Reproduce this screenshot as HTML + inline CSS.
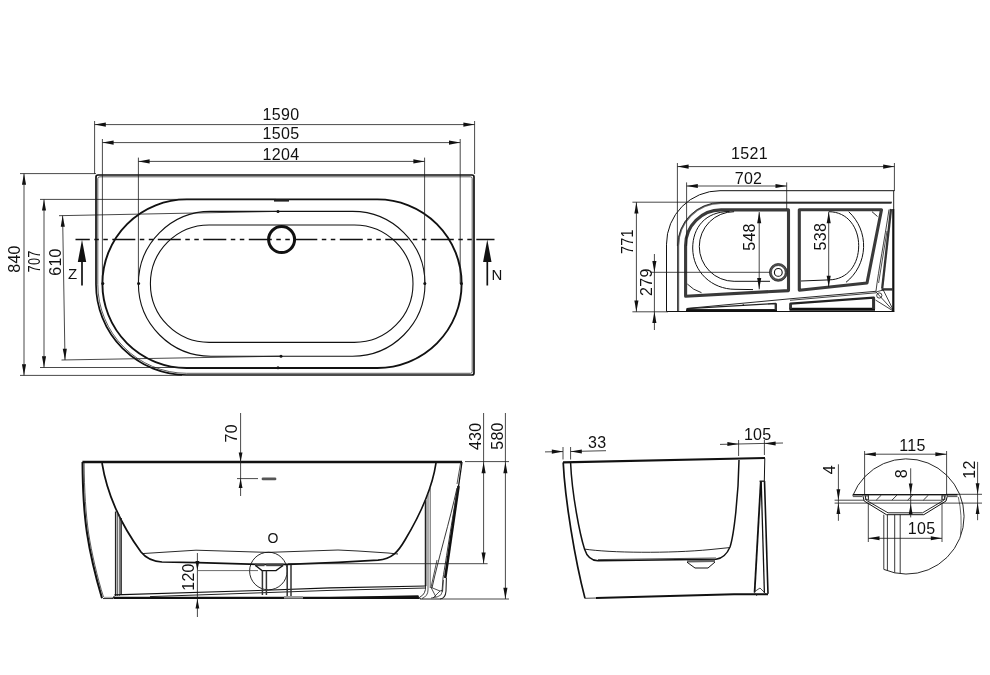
<!DOCTYPE html>
<html><head><meta charset="utf-8"><title>Bathtub drawing</title>
<style>
html,body{margin:0;padding:0;background:#fff;}
body{width:990px;height:675px;overflow:hidden;}
svg{display:block;}
text{font-family:"Liberation Sans",sans-serif;fill:#111;}
</style></head><body>
<svg width="990" height="675" viewBox="0 0 990 675" stroke-linecap="butt">
<rect width="990" height="675" fill="#fff"/>
<g opacity="0.999">
<path d="M 98 175 H 472 Q 474 175 474 177 V 373 Q 474 375 472 375 H 186.7 A 90.7 90.7 0 0 1 96 284.3 V 177 Q 96 175 98 175 Z" stroke="#111" stroke-width="1.7" fill="none" />
<path d="M 100 176.8 H 470.5 Q 472.2 176.8 472.2 178.6 V 371.5 Q 472.2 373.3 470.5 373.3 H 186.7 A 89 89 0 0 1 97.8 284.3 V 178.6 Q 97.8 176.8 100 176.8 Z" stroke="#333" stroke-width="0.8" fill="none" />
<rect x="102.4" y="199.4" width="359.2" height="168.6" rx="84.3" fill="none" stroke="#111" stroke-width="1.9"/>
<rect x="138.4" y="211.4" width="286.6" height="144.8" rx="72.4" fill="none" stroke="#111" stroke-width="1.1"/>
<rect x="150.4" y="225" width="262.6" height="117.4" rx="58.7" fill="none" stroke="#111" stroke-width="1.1"/>
<circle cx="281.6" cy="239.6" r="13" fill="none" stroke="#111" stroke-width="3"/>
<rect x="274" y="199.4" width="15" height="2.2" fill="#222"/>
<line x1="75.50" y1="239.50" x2="494.50" y2="239.50" stroke="#111" stroke-width="1.3" stroke-dasharray="23 4.5 4.5 4.5 4.5 4.5" stroke-dashoffset="8.7"/>
<circle cx="278" cy="211.4" r="1.5" fill="#111"/>
<circle cx="281" cy="356.2" r="1.5" fill="#111"/>
<circle cx="278" cy="367.8" r="1.5" fill="#111"/>
<circle cx="102.8" cy="283.5" r="1.5" fill="#111"/>
<circle cx="138.6" cy="283.5" r="1.5" fill="#111"/>
<circle cx="424.8" cy="283.5" r="1.5" fill="#111"/>
<circle cx="461.4" cy="283.5" r="1.5" fill="#111"/>
<line x1="94.60" y1="121.00" x2="94.60" y2="174.00" stroke="#1a1a1a" stroke-width="0.8" />
<line x1="474.60" y1="121.00" x2="474.60" y2="174.00" stroke="#1a1a1a" stroke-width="0.8" />
<line x1="94.60" y1="124.60" x2="474.60" y2="124.60" stroke="#1a1a1a" stroke-width="0.8" />
<polygon points="94.60,124.60 105.80,122.55 105.80,126.65" fill="#111"/>
<polygon points="474.60,124.60 463.40,126.65 463.40,122.55" fill="#111"/>
<line x1="102.40" y1="139.00" x2="102.40" y2="283.50" stroke="#1a1a1a" stroke-width="0.8" />
<line x1="460.20" y1="139.00" x2="460.20" y2="283.50" stroke="#1a1a1a" stroke-width="0.8" />
<line x1="102.40" y1="142.60" x2="460.20" y2="142.60" stroke="#1a1a1a" stroke-width="0.8" />
<polygon points="102.40,142.60 113.60,140.55 113.60,144.65" fill="#111"/>
<polygon points="460.20,142.60 449.00,144.65 449.00,140.55" fill="#111"/>
<line x1="138.40" y1="157.60" x2="138.40" y2="283.50" stroke="#1a1a1a" stroke-width="0.8" />
<line x1="424.60" y1="157.60" x2="424.60" y2="283.50" stroke="#1a1a1a" stroke-width="0.8" />
<line x1="138.40" y1="161.40" x2="424.60" y2="161.40" stroke="#1a1a1a" stroke-width="0.8" />
<polygon points="138.40,161.40 149.60,159.35 149.60,163.45" fill="#111"/>
<polygon points="424.60,161.40 413.40,163.45 413.40,159.35" fill="#111"/>
<text x="281.00" y="120.00" font-size="16" text-anchor="middle" letter-spacing="0.3">1590</text>
<text x="281.00" y="139.00" font-size="16" text-anchor="middle" letter-spacing="0.3">1505</text>
<text x="281.00" y="160.40" font-size="16" text-anchor="middle" letter-spacing="0.3">1204</text>
<line x1="20.00" y1="173.60" x2="96.00" y2="173.60" stroke="#1a1a1a" stroke-width="0.8" />
<line x1="20.00" y1="375.40" x2="182.00" y2="375.40" stroke="#1a1a1a" stroke-width="0.8" />
<line x1="24.00" y1="173.60" x2="24.00" y2="375.40" stroke="#1a1a1a" stroke-width="0.8" />
<polygon points="24.00,173.60 26.05,184.80 21.95,184.80" fill="#111"/>
<polygon points="24.00,375.40 21.95,364.20 26.05,364.20" fill="#111"/>
<line x1="40.00" y1="199.40" x2="276.00" y2="199.40" stroke="#1a1a1a" stroke-width="0.8" />
<line x1="40.00" y1="367.50" x2="278.00" y2="367.50" stroke="#1a1a1a" stroke-width="0.8" />
<line x1="44.00" y1="199.40" x2="44.00" y2="367.50" stroke="#1a1a1a" stroke-width="0.8" />
<polygon points="44.00,199.40 46.05,210.60 41.95,210.60" fill="#111"/>
<polygon points="44.00,367.50 41.95,356.30 46.05,356.30" fill="#111"/>
<line x1="59.00" y1="215.70" x2="278.00" y2="211.40" stroke="#1a1a1a" stroke-width="0.8" />
<line x1="61.50" y1="360.00" x2="281.00" y2="356.20" stroke="#1a1a1a" stroke-width="0.8" />
<line x1="62.60" y1="215.60" x2="65.00" y2="360.00" stroke="#1a1a1a" stroke-width="0.8" />
<polygon points="62.60,215.60 64.84,226.76 60.74,226.83" fill="#111"/>
<polygon points="65.00,360.00 62.76,348.84 66.86,348.77" fill="#111"/>
<text x="19.50" y="259.00" font-size="16" text-anchor="middle" transform="rotate(-90 19.50 259.00)" letter-spacing="0.3">840</text>
<text x="40.50" y="261.40" font-size="16" text-anchor="middle" transform="rotate(-90 40.50 261.40)" textLength="22" lengthAdjust="spacingAndGlyphs" letter-spacing="0.3">707</text>
<text x="61.00" y="262.00" font-size="16" text-anchor="middle" transform="rotate(-90 61.00 262.00)" letter-spacing="0.3">610</text>
<line x1="82.00" y1="250.00" x2="82.00" y2="285.50" stroke="#111" stroke-width="1.7" />
<polygon points="82.00,239.50 86.20,262.00 77.80,262.00" fill="#111"/>
<line x1="487.30" y1="250.00" x2="487.30" y2="285.50" stroke="#111" stroke-width="1.7" />
<polygon points="487.30,239.50 491.50,262.00 483.10,262.00" fill="#111"/>
<text x="72.70" y="279.00" font-size="15" text-anchor="middle" letter-spacing="0.3">Z</text>
<text x="497.00" y="279.60" font-size="15" text-anchor="middle" letter-spacing="0.3">N</text>
<path d="M 894.4 190.7 H 720 A 53.5 53.5 0 0 0 666.5 244.2 V 311.5 H 894" stroke="#111" stroke-width="1.0" fill="none" />
<path d="M 893.7 190.7 V 209" stroke="#222" stroke-width="1.0" fill="none" />
<path d="M 893.3 209 V 311.5" stroke="#111" stroke-width="2.2" fill="none" />
<path d="M 891.5 203.2 H 721 A 42.6 42.6 0 0 0 678.4 245.8 V 311" stroke="#666" stroke-width="1.6" fill="none" />
<path d="M 891.5 202.4 H 721 A 43.4 43.4 0 0 0 677.6 245.8 V 311" stroke="#111" stroke-width="0.8" fill="none" />
<path d="M 788.5 209.9 H 721 A 35.5 35.5 0 0 0 685.6 245.4 V 296.2 L 788.5 290.6 Z" stroke="#3a3a3a" stroke-width="3.1" fill="none" stroke-linejoin="round"/>
<path d="M 788.5 209.9 H 721 A 35.5 35.5 0 0 0 685.6 245.4 V 296.2 L 788.5 290.6 Z" stroke="none" stroke-width="0" fill="none" />
<path d="M 799.3 209.8 H 881.5 L 867 283 L 799.3 290.2 Z" stroke="#3a3a3a" stroke-width="3.1" fill="none" stroke-linejoin="round"/>
<path d="M 729.5 211.5 C 705 211.5 692.7 228 692.7 248 C 692.7 272 712 289.3 735 289.3 L 753 289.6" stroke="#111" stroke-width="1.0" fill="none" />
<path d="M 734.1 211.7 A 34.8 34.8 0 0 0 734.1 281.3 H 770" stroke="#111" stroke-width="1.0" fill="none" />
<path d="M 848.7 211.7 A 46.5 46.5 0 0 1 846 282.3" stroke="#111" stroke-width="1.0" fill="none" />
<path d="M 828.7 211.7 C 848 211.7 858.7 228 858.7 245.7 C 858.7 264 848 279.7 828.7 279.9 L 801 281" stroke="#111" stroke-width="1.0" fill="none" />
<path d="M 687.3 284 Q 693 290 701.5 292.7" stroke="#111" stroke-width="0.9" fill="none" />
<line x1="872.00" y1="211.70" x2="877.50" y2="216.50" stroke="#111" stroke-width="0.9" />
<circle cx="778.3" cy="272.4" r="7.9" fill="none" stroke="#555" stroke-width="2.0"/>
<circle cx="778.3" cy="272.4" r="8.9" fill="none" stroke="#111" stroke-width="0.7"/>
<circle cx="778.3" cy="272.4" r="6.9" fill="none" stroke="#111" stroke-width="0.6"/>
<circle cx="778.3" cy="272.4" r="3.9" fill="none" stroke="#111" stroke-width="1.1"/>
<path d="M 891 209 L 882.2 288.5" stroke="#333" stroke-width="2.3" fill="none" />
<path d="M 881.5 289.4 H 893" stroke="#333" stroke-width="2.4" fill="none" />
<path d="M 889 209.5 C 884.5 240 878.5 270 876 291" stroke="#111" stroke-width="0.8" fill="none" />
<path d="M 887 231 L 878.6 283" stroke="#222" stroke-width="0.8" fill="none" />
<path d="M 686.5 308.5 L 790 298.8 L 876 291.3" stroke="#111" stroke-width="0.9" fill="none" />
<path d="M 790 300.3 L 876 292.8" stroke="#111" stroke-width="0.8" fill="none" />
<path d="M 687.5 310 L 687.5 308.6 L 775.8 303.5 L 775.8 310 Z" stroke="#222" stroke-width="1.4" fill="none" stroke-linejoin="round"/>
<path d="M 686 310.6 H 777" stroke="#111" stroke-width="2.6" fill="none" />
<path d="M 775.8 303.5 V 310" stroke="#333" stroke-width="2.4" fill="none" />
<path d="M 790.5 303.6 L 873.8 297.6 V 309 H 790.5 Z" stroke="#222" stroke-width="2.2" fill="none" stroke-linejoin="round"/>
<path d="M 789.5 309.3 H 875" stroke="#111" stroke-width="3" fill="none" />
<path d="M 873.6 297.6 V 309" stroke="#333" stroke-width="3" fill="none" />
<path d="M 790.6 303.6 V 309" stroke="#333" stroke-width="2.6" fill="none" />
<circle cx="743.3" cy="305" r="0.8" fill="#111"/>
<path d="M 894 311.5 L 876 292 M 894 311.5 L 883 289.5 M 894 311.5 L 875.5 300 M 876 292 L 883 290" stroke="#111" stroke-width="0.8" fill="none" />
<circle cx="879.3" cy="295.5" r="2.6" fill="none" stroke="#111" stroke-width="0.8"/>
<line x1="677.40" y1="163.00" x2="677.40" y2="246.00" stroke="#1a1a1a" stroke-width="0.8" />
<line x1="894.40" y1="163.00" x2="894.40" y2="191.00" stroke="#1a1a1a" stroke-width="0.8" />
<line x1="677.40" y1="166.60" x2="894.40" y2="166.60" stroke="#1a1a1a" stroke-width="0.8" />
<polygon points="677.40,166.60 688.60,164.55 688.60,168.65" fill="#111"/>
<polygon points="894.40,166.60 883.20,168.65 883.20,164.55" fill="#111"/>
<line x1="686.60" y1="182.40" x2="686.60" y2="246.00" stroke="#1a1a1a" stroke-width="0.8" />
<line x1="786.70" y1="182.40" x2="786.70" y2="209.00" stroke="#1a1a1a" stroke-width="0.8" />
<line x1="686.60" y1="186.00" x2="786.70" y2="186.00" stroke="#1a1a1a" stroke-width="0.8" />
<polygon points="686.60,186.00 697.80,183.95 697.80,188.05" fill="#111"/>
<polygon points="786.70,186.00 775.50,188.05 775.50,183.95" fill="#111"/>
<text x="749.50" y="159.00" font-size="16" text-anchor="middle" letter-spacing="0.3">1521</text>
<text x="748.50" y="183.60" font-size="16" text-anchor="middle" letter-spacing="0.3">702</text>
<line x1="632.40" y1="202.20" x2="892.00" y2="202.20" stroke="#1a1a1a" stroke-width="0.8" />
<line x1="632.40" y1="311.80" x2="668.00" y2="311.80" stroke="#1a1a1a" stroke-width="0.8" />
<line x1="636.40" y1="202.20" x2="636.40" y2="311.80" stroke="#1a1a1a" stroke-width="0.8" />
<polygon points="636.40,202.20 638.45,213.40 634.35,213.40" fill="#111"/>
<polygon points="636.40,311.80 634.35,300.60 638.45,300.60" fill="#111"/>
<text x="633.00" y="241.60" font-size="16" text-anchor="middle" transform="rotate(-90 633.00 241.60)" textLength="25" lengthAdjust="spacingAndGlyphs" letter-spacing="0.3">771</text>
<line x1="650.00" y1="272.30" x2="770.00" y2="272.30" stroke="#1a1a1a" stroke-width="0.8" />
<line x1="654.40" y1="254.00" x2="654.40" y2="330.00" stroke="#1a1a1a" stroke-width="0.8" />
<polygon points="654.40,272.30 652.35,261.10 656.45,261.10" fill="#111"/>
<polygon points="654.40,311.80 656.45,323.00 652.35,323.00" fill="#111"/>
<text x="652.30" y="282.10" font-size="16" text-anchor="middle" transform="rotate(-90 652.30 282.10)" letter-spacing="0.3">279</text>
<line x1="759.20" y1="212.00" x2="759.20" y2="289.30" stroke="#1a1a1a" stroke-width="0.8" />
<polygon points="759.20,212.00 761.25,223.20 757.15,223.20" fill="#111"/>
<polygon points="759.20,289.30 757.15,278.10 761.25,278.10" fill="#111"/>
<text x="755.30" y="237.00" font-size="16" text-anchor="middle" transform="rotate(-90 755.30 237.00)" letter-spacing="0.3">548</text>
<line x1="828.70" y1="212.00" x2="828.70" y2="287.00" stroke="#1a1a1a" stroke-width="0.8" />
<polygon points="828.70,212.00 830.75,223.20 826.65,223.20" fill="#111"/>
<polygon points="828.70,287.00 826.65,275.80 830.75,275.80" fill="#111"/>
<text x="825.70" y="236.70" font-size="16" text-anchor="middle" transform="rotate(-90 825.70 236.70)" letter-spacing="0.3">538</text>
<line x1="82.40" y1="462.00" x2="462.00" y2="462.00" stroke="#111" stroke-width="2.3" />
<path d="M 82.5 462 C 82.7 490 84.3 515 87 533 C 90 553 96 578 102 598.3" stroke="#111" stroke-width="2" fill="none" />
<path d="M 84.1 463 C 84.3 490 85.9 515 88.6 533 C 91.6 553 97.5 578 103.5 597" stroke="#333" stroke-width="0.8" fill="none" />
<path d="M 462 462 L 458.6 486" stroke="#111" stroke-width="1.3" fill="none" />
<path d="M 458.6 486 L 445.2 578" stroke="#111" stroke-width="2.6" fill="none" />
<path d="M 460.6 463 L 457 484" stroke="#222" stroke-width="0.8" fill="none" />
<path d="M 458 486 C 452 520 446 560 443 578 L 442 592" stroke="#222" stroke-width="0.9" fill="none" />
<path d="M 457 488 C 450 520 438 560 432 588" stroke="#222" stroke-width="0.9" fill="none" />
<path d="M 102 463 C 108 500 125 530 141 552 C 147 559.5 154 561.5 162 562 L 198 562.6 L 258 564.3 L 288 564.3 L 338 562.4 L 378 560.2 C 392 559 398 552 405 540 C 420 515 432 490 436 463" stroke="#111" stroke-width="1.7" fill="none" />
<path d="M 142 553.6 L 196 550.2 L 268 552.4 L 338 550 L 358 551 L 388 553 L 398 554" stroke="#111" stroke-width="0.9" fill="none" />
<line x1="288.00" y1="563.70" x2="487.60" y2="563.70" stroke="#1a1a1a" stroke-width="0.8" />
<line x1="115.60" y1="511.50" x2="115.60" y2="596.00" stroke="#222" stroke-width="1.4" />
<line x1="117.40" y1="513.00" x2="117.40" y2="596.00" stroke="#333" stroke-width="0.8" />
<line x1="119.30" y1="514.50" x2="119.30" y2="596.00" stroke="#333" stroke-width="0.8" />
<line x1="121.10" y1="518.00" x2="121.10" y2="595.00" stroke="#222" stroke-width="1.5" />
<line x1="425.60" y1="500.00" x2="425.60" y2="586.00" stroke="#222" stroke-width="1.7" />
<line x1="428.00" y1="494.00" x2="428.00" y2="590.00" stroke="#333" stroke-width="0.8" />
<line x1="430.20" y1="488.00" x2="430.20" y2="588.00" stroke="#333" stroke-width="0.8" />
<path d="M 425.6 586 Q 426 594 420 597" stroke="#222" stroke-width="0.9" fill="none" />
<path d="M 428 590 Q 428 596 422 598.5" stroke="#222" stroke-width="0.8" fill="none" />
<line x1="103.00" y1="598.50" x2="113.00" y2="598.50" stroke="#333" stroke-width="1.1" />
<line x1="104.00" y1="597.40" x2="112.00" y2="597.40" stroke="#aaa" stroke-width="1.2" />
<path d="M 112.2 598.6 L 114.4 596.4" stroke="#222" stroke-width="1.2" fill="none" />
<line x1="113.50" y1="597.90" x2="419.00" y2="597.90" stroke="#111" stroke-width="2.4" />
<path d="M 114.4 594.9 L 258 590.5 L 330 587.8 L 426 586" stroke="#111" stroke-width="1.2" fill="none" />
<path d="M 150 596.6 L 258 592.9 L 330 590.4 L 426 588" stroke="#222" stroke-width="1.0" fill="none" />
<polygon points="304,597.4 418.5,595.2 418.5,598.9 304,598.9" fill="#111"/>
<rect x="284" y="596" width="19" height="2.6" fill="#999"/>
<path d="M 446.4 578 L 446 591 Q 445.5 598.6 440 599 L 420.5 599 L 418 596.5" stroke="#222" stroke-width="1.1" fill="none" />
<path d="M 443.5 580 L 442.6 591 Q 441.8 596 437 597 L 431 598" stroke="#333" stroke-width="0.8" fill="none" />
<path d="M 437 560 L 431 587.4 L 440 591 L 433 598 M 431 587.4 L 436 597 M 440 591 L 443 590" stroke="#222" stroke-width="0.8" fill="none" />
<circle cx="268.4" cy="571" r="18.8" fill="none" stroke="#111" stroke-width="0.9"/>
<text x="273.00" y="543.00" font-size="14" text-anchor="middle" letter-spacing="0.3">O</text>
<rect x="255" y="563.6" width="9.5" height="2.6" fill="#444"/>
<rect x="266.2" y="563.6" width="17.1" height="2.6" fill="#444"/>
<path d="M 255.5 565.5 L 262 570.6 H 276 L 283 565.5" stroke="#111" stroke-width="1.3" fill="none" />
<line x1="262.40" y1="570.60" x2="262.40" y2="595.00" stroke="#333" stroke-width="1.5" />
<line x1="266.40" y1="570.60" x2="266.40" y2="595.00" stroke="#333" stroke-width="1.5" />
<line x1="287.20" y1="565.00" x2="287.20" y2="596.00" stroke="#333" stroke-width="1.5" />
<line x1="291.00" y1="565.00" x2="291.00" y2="596.00" stroke="#333" stroke-width="1.5" />
<line x1="240.60" y1="413.00" x2="240.60" y2="496.00" stroke="#1a1a1a" stroke-width="0.8" />
<polygon points="240.60,462.00 238.70,452.50 242.50,452.50" fill="#111"/>
<polygon points="240.60,478.60 242.50,488.10 238.70,488.10" fill="#111"/>
<line x1="237.00" y1="478.60" x2="258.00" y2="478.60" stroke="#1a1a1a" stroke-width="0.8" />
<rect x="261.6" y="477.5" width="14.8" height="2.8" rx="1.4" fill="#555"/>
<text x="237.00" y="433.30" font-size="16" text-anchor="middle" transform="rotate(-90 237.00 433.30)" letter-spacing="0.3">70</text>
<line x1="197.40" y1="553.00" x2="197.40" y2="617.00" stroke="#1a1a1a" stroke-width="0.8" />
<polygon points="197.40,570.60 195.50,561.10 199.30,561.10" fill="#111"/>
<polygon points="197.40,599.00 199.30,608.50 195.50,608.50" fill="#111"/>
<line x1="198.00" y1="570.60" x2="258.00" y2="570.60" stroke="#444" stroke-width="0.8" />
<text x="193.60" y="577.00" font-size="16" text-anchor="middle" transform="rotate(-90 193.60 577.00)" letter-spacing="0.3">120</text>
<line x1="465.00" y1="461.60" x2="509.00" y2="461.60" stroke="#1a1a1a" stroke-width="0.8" />
<line x1="440.00" y1="599.00" x2="509.00" y2="599.00" stroke="#1a1a1a" stroke-width="0.8" />
<line x1="483.60" y1="413.00" x2="483.60" y2="563.70" stroke="#1a1a1a" stroke-width="0.8" />
<polygon points="483.60,462.00 485.65,473.20 481.55,473.20" fill="#111"/>
<polygon points="483.60,563.70 481.55,552.50 485.65,552.50" fill="#111"/>
<line x1="505.40" y1="413.00" x2="505.40" y2="599.00" stroke="#1a1a1a" stroke-width="0.8" />
<polygon points="505.40,462.00 507.45,473.20 503.35,473.20" fill="#111"/>
<polygon points="505.40,599.00 503.35,587.80 507.45,587.80" fill="#111"/>
<text x="481.00" y="436.30" font-size="16" text-anchor="middle" transform="rotate(-90 481.00 436.30)" letter-spacing="0.3">430</text>
<text x="502.60" y="436.00" font-size="16" text-anchor="middle" transform="rotate(-90 502.60 436.00)" letter-spacing="0.3">580</text>
<line x1="563.00" y1="462.40" x2="765.00" y2="458.00" stroke="#111" stroke-width="2.2" />
<path d="M 563.2 462.4 C 565 500 575 560 585 598.4" stroke="#111" stroke-width="1.7" fill="none" />
<path d="M 570.6 463 C 572 495 580 535 584.5 549 C 587 557 591 560.6 598 560.8 L 716 559.2 C 722 558.6 727 554 730 547 C 734 535 738.5 495 739 460" stroke="#111" stroke-width="1.5" fill="none" />
<path d="M 598 559.6 L 716 558" stroke="#222" stroke-width="0.8" fill="none" />
<path d="M 584 549 C 610 553 670 553.5 710 549.6 L 729.5 547.6" stroke="#111" stroke-width="0.9" fill="none" />
<polygon points="687,560.2 715,559.8 715,562 687,562.4" fill="#666"/>
<path d="M 687 562.2 L 695 568 H 708 L 715 562" stroke="#111" stroke-width="1.0" fill="none" />
<line x1="585.00" y1="598.30" x2="597.00" y2="598.00" stroke="#444" stroke-width="1" />
<path d="M 596 598 L 734 594.3 L 768 594.2" stroke="#111" stroke-width="2.1" fill="none" />
<line x1="764.80" y1="458.30" x2="764.30" y2="481.00" stroke="#111" stroke-width="1.0" />
<line x1="764.50" y1="481.00" x2="768.00" y2="593.80" stroke="#111" stroke-width="1.6" />
<line x1="761.20" y1="481.00" x2="764.40" y2="593.00" stroke="#111" stroke-width="1.3" />
<line x1="760.80" y1="481.00" x2="754.60" y2="592.30" stroke="#111" stroke-width="1.8" />
<line x1="759.60" y1="481.20" x2="765.00" y2="481.20" stroke="#222" stroke-width="1.4" />
<path d="M 754 592 L 760 588 L 766 594 M 754 592 L 757 596" stroke="#222" stroke-width="0.8" fill="none" />
<line x1="563.00" y1="447.00" x2="563.00" y2="459.50" stroke="#1a1a1a" stroke-width="0.8" />
<line x1="570.60" y1="447.00" x2="570.60" y2="459.50" stroke="#1a1a1a" stroke-width="0.8" />
<line x1="545.00" y1="451.90" x2="563.00" y2="451.60" stroke="#1a1a1a" stroke-width="0.8" />
<line x1="570.60" y1="451.50" x2="606.00" y2="450.70" stroke="#1a1a1a" stroke-width="0.8" />
<polygon points="563.00,451.60 551.80,453.65 551.80,449.55" fill="#111"/>
<polygon points="570.60,451.50 581.80,449.45 581.80,453.55" fill="#111"/>
<text x="597.30" y="447.60" font-size="16" text-anchor="middle" letter-spacing="0.3">33</text>
<line x1="738.60" y1="440.00" x2="738.60" y2="456.00" stroke="#1a1a1a" stroke-width="0.8" />
<line x1="764.40" y1="440.00" x2="764.40" y2="455.00" stroke="#1a1a1a" stroke-width="0.8" />
<line x1="720.00" y1="444.40" x2="783.00" y2="443.00" stroke="#1a1a1a" stroke-width="0.8" />
<polygon points="738.60,444.00 727.40,446.05 727.40,441.95" fill="#111"/>
<polygon points="764.40,443.50 775.60,441.45 775.60,445.55" fill="#111"/>
<text x="757.70" y="440.40" font-size="16" text-anchor="middle" letter-spacing="0.3">105</text>
<path d="M 852.8 495.6 A 57.6 57.6 0 1 1 883.8 569.4" stroke="#111" stroke-width="0.9" fill="none" />
<path d="M 958.3 497 Q 962.5 515 960.5 536" stroke="#444" stroke-width="0.8" fill="none" />
<line x1="852.80" y1="494.70" x2="957.50" y2="494.70" stroke="#111" stroke-width="1.6" />
<line x1="946.00" y1="494.30" x2="982.00" y2="494.30" stroke="#1a1a1a" stroke-width="0.8" />
<line x1="834.60" y1="500.20" x2="864.00" y2="500.20" stroke="#1a1a1a" stroke-width="0.8" />
<line x1="834.60" y1="503.10" x2="982.00" y2="503.10" stroke="#1a1a1a" stroke-width="0.8" />
<rect x="868.3" y="495" width="73.7" height="5.2" fill="#fff" stroke="#222" stroke-width="0.8"/>
<line x1="876.20" y1="500.20" x2="881.40" y2="495.00" stroke="#222" stroke-width="0.9" />
<line x1="891.90" y1="500.20" x2="897.10" y2="495.00" stroke="#222" stroke-width="0.9" />
<line x1="907.60" y1="500.20" x2="912.80" y2="495.00" stroke="#222" stroke-width="0.9" />
<line x1="923.30" y1="500.20" x2="928.50" y2="495.00" stroke="#222" stroke-width="0.9" />
<line x1="852.80" y1="496.60" x2="862.00" y2="496.60" stroke="#222" stroke-width="0.8" />
<line x1="948.00" y1="496.60" x2="957.50" y2="496.60" stroke="#222" stroke-width="0.8" />
<rect x="865.3" y="496" width="3" height="3.4" fill="none" stroke="#222" stroke-width="0.7"/>
<rect x="942" y="496" width="3" height="3.4" fill="none" stroke="#222" stroke-width="0.7"/>
<path d="M 862.8 495.5 L 864.2 501 L 886.5 514.7 H 923.8 L 946 501 L 947.5 495.5" stroke="#111" stroke-width="1.0" fill="none" />
<path d="M 865 495.5 L 866.3 500.3 L 888 512.8 H 922.6 L 943.8 500.3 L 945.2 495.5" stroke="#111" stroke-width="0.9" fill="none" />
<line x1="883.80" y1="514.70" x2="883.80" y2="569.34" stroke="#222" stroke-width="0.9" />
<line x1="887.40" y1="514.70" x2="887.40" y2="570.74" stroke="#222" stroke-width="0.9" />
<line x1="894.70" y1="514.70" x2="894.70" y2="572.78" stroke="#222" stroke-width="0.9" />
<line x1="900.20" y1="514.70" x2="900.20" y2="573.65" stroke="#222" stroke-width="0.9" />
<line x1="864.60" y1="451.00" x2="864.60" y2="494.70" stroke="#1a1a1a" stroke-width="0.8" />
<line x1="946.60" y1="451.00" x2="946.60" y2="494.70" stroke="#1a1a1a" stroke-width="0.8" />
<line x1="864.60" y1="454.20" x2="946.60" y2="454.20" stroke="#1a1a1a" stroke-width="0.8" />
<polygon points="864.60,454.20 875.80,452.15 875.80,456.25" fill="#111"/>
<polygon points="946.60,454.20 935.40,456.25 935.40,452.15" fill="#111"/>
<text x="912.50" y="450.60" font-size="16" text-anchor="middle" letter-spacing="0.3">115</text>
<line x1="868.30" y1="503.00" x2="868.30" y2="542.00" stroke="#1a1a1a" stroke-width="0.8" />
<line x1="942.00" y1="503.00" x2="942.00" y2="542.00" stroke="#1a1a1a" stroke-width="0.8" />
<line x1="868.30" y1="538.30" x2="942.00" y2="538.30" stroke="#1a1a1a" stroke-width="0.8" />
<polygon points="868.30,538.30 879.50,536.25 879.50,540.35" fill="#111"/>
<polygon points="942.00,538.30 930.80,540.35 930.80,536.25" fill="#111"/>
<text x="921.60" y="534.40" font-size="16" text-anchor="middle" letter-spacing="0.3">105</text>
<line x1="838.40" y1="464.30" x2="838.40" y2="520.80" stroke="#1a1a1a" stroke-width="0.8" />
<polygon points="838.40,500.20 836.50,489.20 840.30,489.20" fill="#111"/>
<polygon points="838.40,503.10 840.30,514.10 836.50,514.10" fill="#111"/>
<text x="834.60" y="469.60" font-size="16" text-anchor="middle" transform="rotate(-90 834.60 469.60)" letter-spacing="0.3">4</text>
<line x1="977.60" y1="461.90" x2="977.60" y2="520.20" stroke="#1a1a1a" stroke-width="0.8" />
<polygon points="977.60,494.30 975.70,483.30 979.50,483.30" fill="#111"/>
<polygon points="977.60,503.10 979.50,514.10 975.70,514.10" fill="#111"/>
<text x="974.80" y="469.60" font-size="16" text-anchor="middle" transform="rotate(-90 974.80 469.60)" letter-spacing="0.3">12</text>
<line x1="910.70" y1="468.30" x2="910.70" y2="517.40" stroke="#1a1a1a" stroke-width="0.8" />
<polygon points="910.70,494.00 908.80,483.50 912.60,483.50" fill="#111"/>
<polygon points="910.70,503.80 912.60,514.30 908.80,514.30" fill="#111"/>
<text x="907.40" y="473.70" font-size="16" text-anchor="middle" transform="rotate(-90 907.40 473.70)" letter-spacing="0.3">8</text>
</g>
</svg>
</body></html>
